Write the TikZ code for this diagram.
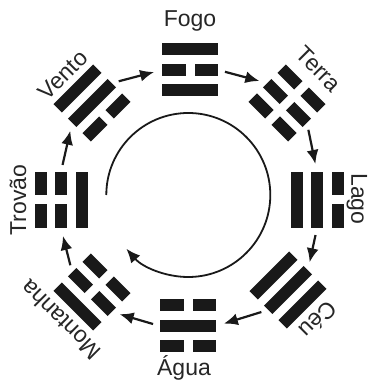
\documentclass[tikz,border=0pt]{standalone}
\usepackage{fontspec}
\setmainfont{Liberation Sans}
\usetikzlibrary{arrows.meta}
\usetikzlibrary{calc}

\tikzset{
  gua/.style={minimum width=56pt,minimum height=53pt,inner sep=0pt},
  barra/.style={fill=black!90},
  rotulo/.style={font=\fontsize{23}{27}\selectfont,text=black!85,inner sep=0pt},
  seta/.style={line width=2.2pt,black!90,-{Latex[length=14pt,width=12pt]},shorten <=7pt,shorten >=8pt},
  giro/.style={line width=1.8pt,black!90,-{Latex[length=14pt,width=12pt]}}
}

% one line of a trigram: #1 = offset, #2 = 1 solid / 0 broken
\newcommand{\linha}[2]{%
  \ifnum#2=1
    \fill[barra] (-28,#1-6) rectangle (28,#1+6);
  \else
    \fill[barra] (-28,#1-6) rectangle (-4.5,#1+6);
    \fill[barra] (4.5,#1-6) rectangle (28,#1+6);
  \fi}
% trigram on node #1, turned by #2, lines from inner (#3) to outer (#5)
\newcommand{\trigrama}[5]{%
  \begin{scope}[shift={(#1)},rotate=#2]
    \linha{-20.5}{#3}\linha{0}{#4}\linha{20.5}{#5}
  \end{scope}}

\begin{document}
\begin{tikzpicture}[x=1pt,y=1pt]
  \useasboundingbox (0,0) rectangle (369,382);
  \node[gua,rotate=0] (fogo) at (190,312) {};
  \node[gua,rotate=-45] (terra) at (287,279) {};
  \node[gua,rotate=-90] (lago) at (317,182) {};
  \node[gua,rotate=-135] (ceu) at (288,92) {};
  \node[gua,rotate=-180] (agua) at (188,56) {};
  \node[gua,rotate=-225] (montanha) at (92,90) {};
  \node[gua,rotate=90] (trovao) at (61,182) {};
  \node[gua,rotate=45] (vento) at (92,279) {};
  \trigrama{fogo}{0}{1}{0}{1}
  \trigrama{terra}{-45}{0}{0}{0}
  \trigrama{lago}{-90}{1}{1}{0}
  \trigrama{ceu}{-135}{1}{1}{1}
  \trigrama{agua}{-180}{0}{1}{0}
  \trigrama{montanha}{-225}{0}{0}{1}
  \trigrama{trovao}{90}{1}{0}{0}
  \trigrama{vento}{45}{0}{1}{1}
  % names
  \node[rotulo] (lfogo) at (190,361) {Fogo};
  \node[rotulo,rotate=-45] (lterra) at (319,313) {Terra};
  \node[rotulo,rotate=-90] (llago) at (357,183) {Lago};
  \node[rotulo,rotate=-135] (lceu) at (318,62) {Céu};
  \node[rotulo] (lagua) at (184,14) {Água};
  \node[rotulo,rotate=135] (lmontanha) at (61,62) {Montanha};
  \node[rotulo,rotate=90] (ltrovao) at (18,182) {Trovão};
  \node[rotulo,rotate=45] (lvento) at (63,307) {Vento};
  % ring of arrows
  \draw[seta] (fogo.east) -- (terra.west);
  \draw[seta] (terra.east) -- (lago.west);
  \draw[seta] (lago.east) -- (ceu.west);
  \draw[seta] (ceu.east) -- (agua.west);
  \draw[seta] (agua.east) -- (montanha.west);
  \draw[seta] (montanha.east) -- (trovao.west);
  \draw[seta] (trovao.east) -- (vento.west);
  \draw[seta] (vento.east) -- (fogo.west);
  % turning circle
  \coordinate (centro) at (188.3,187);
  \draw[giro] (centro) ++(180:82) arc[start angle=180,end angle=-139,radius=82];
\end{tikzpicture}
\end{document}
